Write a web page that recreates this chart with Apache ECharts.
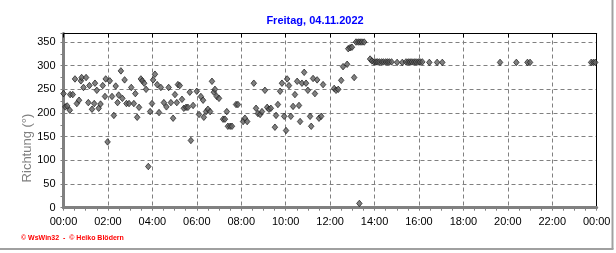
<!DOCTYPE html>
<html><head><meta charset="utf-8">
<script src="https://cdn.jsdelivr.net/npm/echarts@6/dist/echarts.min.js"></script>
<style>html,body{margin:0;padding:0;background:#fff}#c{width:616px;height:253px}</style>
</head><body><div id="c"></div>
<script>
const chartTitle = 'Freitag, 04.11.2022';
const yAxisName = 'Richtung (°)';
const credit = '© WsWin32  -  © Heiko Blödern';
const yTicks = [0, 50, 100, 150, 200, 250, 300, 350];
const xTickLabels = ['00:00','02:00','04:00','06:00','08:00','10:00','12:00','14:00','16:00','18:00','20:00','22:00','00:00'];
// minutes since midnight
const times = [
  0,5,10,17,18,25,31,36,42,47,49,54,61,67,70,77,83,85,90,95,100,106,112,114,119,125,131,136,141,146,149,155,159,165,170,177,183,190,194,199,204,209,213,218,223,229,234,239,242,247,253,258,263,
  271,278,284,290,296,301,306,309,314,320,325,331,336,341,344,350,360,366,371,377,379,385,390,396,401,406,409,414,420,431,436,441,444,450,455,466,471,485,490,496,514,520,525,531,536,544,550,555,560,
  571,574,579,585,590,596,601,604,609,614,620,625,631,636,639,644,650,655,660,666,669,674,679,685,690,696,701,731,736,742,750,755,766,769,774,779,785,790,796,799,801,806,812,
  828,833,839,844,848,853,859,864,870,875,880,886,901,915,925,931,936,941,947,952,958,963,969,988,1009,1023,
  1179,1223,1253,1260,1425,1431,1436
];
// wind direction in degrees
const values = [
  241,213,215,206,239,239,272,220,227,268,275,254,275,222,258,208,220,263,248,210,219,258,235,272,139,268,235,195,257,222,238,289,231,270,220,220,254,220,241,191,212,272,268,263,250,87,203,220,270,282,260,201,254,
  222,213,254,222,189,239,222,260,258,229,210,212,212,244,142,216,246,197,235,227,191,203,208,203,267,244,250,235,231,187,187,203,172,172,172,218,218,182,189,182,263,210,199,197,203,248,212,208,210,
  170,195,218,246,263,193,163,272,258,193,214,239,267,216,182,263,286,263,248,193,172,273,241,270,189,193,260,252,248,250,269,298,303,336,338,339,275,350,350,9,350,350,350,
  314,310,308,308,308,308,308,308,308,308,308,308,307,307,308,308,308,308,308,308,308,308,308,307,307,307,
  307,307,307,307,307,307,307
];
const data = times.map((t, i) => [t, values[i]]);
const chart = echarts.init(document.getElementById('c'), null, {renderer: 'canvas'});
const dash = {color: '#808080', type: [4, 3], width: 1};
chart.setOption({
  animation: false,
  backgroundColor: '#fff',
  title: {
    text: chartTitle, left: 310, top: 10, textAlign: 'center',
    textStyle: {color: '#0000ff', fontSize: 11, fontWeight: 'bold', fontFamily: 'Liberation Sans, Arial, sans-serif'}
  },
  grid: {left: 63.5, right: 19.3, top: 33.5, bottom: 45.3, containLabel: false},
  xAxis: [{
    type: 'value', min: 0, max: 1440, interval: 120, position: 'bottom',
    axisLine: {show: true, onZero: false, lineStyle: {color: '#808080', width: 3}},
    axisTick: {show: true, length: 3, lineStyle: {color: '#808080'}},
    minorTick: {show: true, splitNumber: 4, length: 3, lineStyle: {color: '#808080'}},
    axisLabel: {margin: 9, color: '#000', fontSize: 11, fontFamily: 'Liberation Sans, Arial, sans-serif',
      formatter: v => xTickLabels[Math.round(v / 120)]},
    splitLine: {show: true, lineStyle: dash}
  }, {
    type: 'value', min: 0, max: 1440, interval: 120, position: 'top',
    axisLine: {show: true, onZero: false, lineStyle: {color: '#000', width: 1}},
    axisTick: {show: true, inside: true, length: 4, lineStyle: {color: '#000'}},
    axisLabel: {show: false}, splitLine: {show: false}
  }],
  yAxis: [{
    type: 'value', min: 0, max: 368, interval: 50, position: 'left',
    axisLine: {show: true, onZero: false, lineStyle: {color: '#808080', width: 3}},
    axisTick: {show: true, length: 3, lineStyle: {color: '#808080'}},
    minorTick: {show: true, splitNumber: 2, length: 3, lineStyle: {color: '#808080'}},
    axisLabel: {margin: 8, color: '#000', fontSize: 11, fontFamily: 'Liberation Sans, Arial, sans-serif',
      showMaxLabel: false, formatter: v => (yTicks.indexOf(v) >= 0 ? String(v) : '')},
    splitLine: {show: true, lineStyle: dash}
  }, {
    type: 'value', min: 0, max: 368, position: 'right',
    axisLine: {show: true, onZero: false, lineStyle: {color: '#000', width: 1}},
    axisTick: {show: false}, axisLabel: {show: false}, splitLine: {show: false}
  }],
  series: [{
    type: 'scatter', xAxisIndex: 0, yAxisIndex: 0, data: data,
    symbol: 'diamond', symbolSize: [5.5, 6.5],
    itemStyle: {color: '#606060', borderColor: '#1a1a1a', borderWidth: 0.9}
  }],
  graphic: [
    {type: 'text', x: 27, y: 148, rotation: Math.PI / 2,
      style: {text: yAxisName, fill: '#808080', font: '13px "Liberation Sans", Arial, sans-serif', align: 'center', verticalAlign: 'middle'}},
    {type: 'text', x: 21, y: 238.5,
      style: {text: credit, fill: '#ff0000', font: 'bold 7px "Liberation Sans", Arial, sans-serif', verticalAlign: 'middle'}},
    {type: 'line', shape: {x1: 612.5, y1: 0, x2: 612.5, y2: 249}, style: {stroke: '#a0a0a0', lineWidth: 2}},
    {type: 'line', shape: {x1: 0, y1: 249, x2: 613.5, y2: 249}, style: {stroke: '#a0a0a0', lineWidth: 2}}
  ]
});
</script>
</body></html>
